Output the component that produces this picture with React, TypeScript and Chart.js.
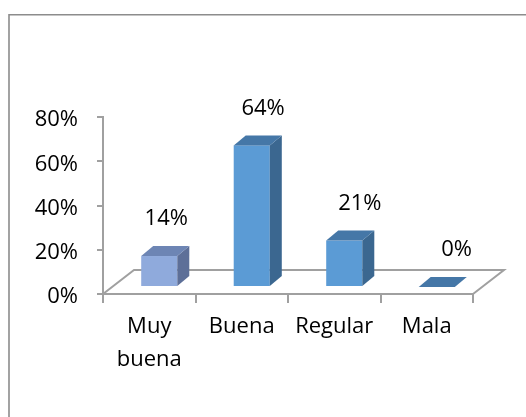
import React, { useEffect, useRef } from "react";
import { Chart, registerables } from "chart.js";

Chart.register(...registerables);

// ---- data ----
const categories: (string | string[])[] = [["Muy", "buena"], "Buena", "Regular", "Mala"];
const values: number[] = [0.14, 0.64, 0.21, 0];
const yTickValues: number[] = [0, 0.2, 0.4, 0.6, 0.8];

// ---- styles ----
const frontColors = ["#8FAADC", "#5B9BD5", "#5B9BD5", "#5B9BD5"];
const sideColors = ["#5D6F98", "#3B6790", "#3B6790", "#3B6790"];
const topColors = ["#6D85B4", "#4577A7", "#4577A7", "#4577A7"];
const AXIS_COLOR = "#a0a0a0";
const FONT = "'Open Sans', 'Liberation Sans', sans-serif";

const FLOOR_DX = 31;
const FLOOR_DY = 24;
const BAR_DX = 12;
const BAR_DY = 10;
const BAR_SHIFT_X = 10;
const BAR_SHIFT_Y = 7;

const pct = (v: number) => `${Math.round(v * 100)}%`;

const threeDPlugin = {
  id: "threeD",
  beforeDraw(chart: any) {
    const ctx = chart.ctx;
    ctx.save();
    ctx.fillStyle = "#ffffff";
    ctx.fillRect(0, 0, chart.width, chart.height);
    ctx.strokeStyle = "#8c8c8c";
    ctx.lineWidth = 1.6;
    ctx.beginPath();
    ctx.moveTo(9, chart.height + 5);
    ctx.lineTo(9, 14.8);
    ctx.lineTo(chart.width + 5, 14.8);
    ctx.stroke();
    ctx.restore();
  },
  beforeDatasetsDraw(chart: any) {
    const ctx = chart.ctx;
    const xs = chart.scales.x;
    const ys = chart.scales.y;
    const y0 = ys.getPixelForValue(0);
    ctx.save();
    ctx.strokeStyle = AXIS_COLOR;
    ctx.lineWidth = 2;
    ctx.beginPath();
    ctx.moveTo(xs.left, y0);
    ctx.lineTo(xs.left + FLOOR_DX, y0 - FLOOR_DY);
    ctx.lineTo(xs.right + FLOOR_DX, y0 - FLOOR_DY);
    ctx.lineTo(xs.right, y0);
    ctx.stroke();
    ctx.restore();
  },
  afterDatasetsDraw(chart: any) {
    const ctx = chart.ctx;
    const meta = chart.getDatasetMeta(0);
    const ys = chart.scales.y;
    ctx.save();
    meta.data.forEach((el: any, i: number) => {
      const w = el.width;
      const fl = el.x - w / 2 + BAR_SHIFT_X;
      const fr = fl + w;
      const yb = el.base - BAR_SHIFT_Y;
      const yt = el.y - BAR_SHIFT_Y;
      // front
      if (yb - yt > 0.5) {
        ctx.fillStyle = frontColors[i];
        ctx.fillRect(fl, yt, w, yb - yt);
        // side
        ctx.fillStyle = sideColors[i];
        ctx.beginPath();
        ctx.moveTo(fr, yt);
        ctx.lineTo(fr + BAR_DX, yt - BAR_DY);
        ctx.lineTo(fr + BAR_DX, yb - BAR_DY);
        ctx.lineTo(fr, yb);
        ctx.closePath();
        ctx.fill();
      }
      // top
      ctx.fillStyle = topColors[i];
      ctx.beginPath();
      ctx.moveTo(fl, yt);
      ctx.lineTo(fr, yt);
      ctx.lineTo(fr + BAR_DX, yt - BAR_DY);
      ctx.lineTo(fl + BAR_DX, yt - BAR_DY);
      ctx.closePath();
      ctx.fill();

      // data label
      ctx.fillStyle = "#000000";
      ctx.font = `22px ${FONT}`;
      ctx.textAlign = "center";
      ctx.textBaseline = "middle";
      const lx = el.x + 17 + i * 4.3;
      const ly = ys.getPixelForValue(values[i]) - 44;
      ctx.fillText(pct(values[i]), lx, ly);
    });
    ctx.restore();
  },
};

export default function App() {
  const canvasRef = useRef<HTMLCanvasElement | null>(null);

  useEffect(() => {
    const canvas = canvasRef.current;
    if (!canvas) return;
    const chart = new Chart(canvas, {
      type: "bar",
      data: {
        labels: categories as any,
        datasets: [
          {
            data: values,
            backgroundColor: "rgba(0,0,0,0)",
            borderWidth: 0,
            barPercentage: 0.39,
            categoryPercentage: 1,
          },
        ],
      },
      options: {
        responsive: false,
        animation: false,
        devicePixelRatio: 1,
        layout: { padding: { top: 117, right: 53, bottom: 0, left: 0 } },
        plugins: {
          legend: { display: false },
          tooltip: { enabled: false },
        },
        scales: {
          x: {
            type: "category",
            offset: true,
            grid: {
              offset: true,
              drawOnChartArea: false,
              drawTicks: true,
              tickLength: 9,
              color: AXIS_COLOR,
              lineWidth: 2,
            },
            border: { display: true, color: AXIS_COLOR, width: 2 },
            ticks: {
              autoSkip: false,
              maxRotation: 0,
              minRotation: 0,
              padding: 7,
              color: "#000000",
              font: { family: FONT, size: 22, lineHeight: 1.5 },
            },
            afterFit: (scale: any) => {
              scale.height = 123;
            },
          },
          y: {
            type: "linear",
            min: 0,
            max: 0.8,
            afterBuildTicks: (scale: any) => {
              scale.ticks = yTickValues.map((v) => ({ value: v }));
            },
            grid: {
              drawOnChartArea: false,
              drawTicks: true,
              tickLength: 6,
              color: AXIS_COLOR,
              lineWidth: 2,
            },
            border: { display: true, color: AXIS_COLOR, width: 2 },
            ticks: {
              padding: 19,
              labelOffset: 3,
              color: "#000000",
              font: { family: FONT, size: 22 },
              callback: (v: any) => pct(Number(v)),
            },
            afterFit: (scale: any) => {
              scale.width = 103;
            },
          },
        },
      },
      plugins: [threeDPlugin],
    });
    return () => chart.destroy();
  }, []);

  return (
    <div style={{ position: "absolute", left: 0, top: 0, width: 526, height: 417, background: "#fff" }}>
      <canvas ref={canvasRef} width={526} height={417} style={{ display: "block" }} />
    </div>
  );
}
